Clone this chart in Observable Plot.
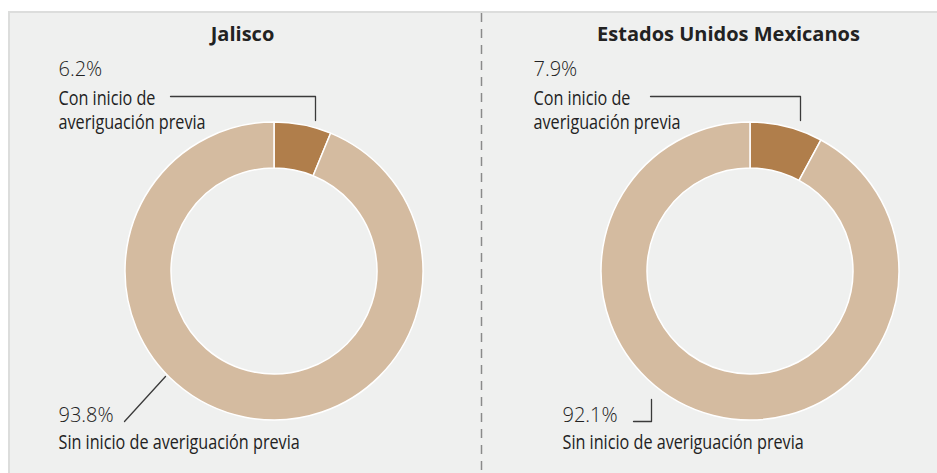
<!DOCTYPE html>
<html>
<head>
<meta charset="utf-8">
<script src="https://cdn.jsdelivr.net/npm/d3@7"></script>
<script src="https://cdn.jsdelivr.net/npm/@observablehq/plot@0.6"></script>
<style>
  html, body { margin: 0; padding: 0; background: #ffffff; }
  #wrap { position: relative; width: 937px; height: 473px; overflow: hidden; }
  #panel { position: absolute; left: 8px; top: 11px; width: 940px; height: 470px;
           background: #eff0ef; border-left: 2px solid #dcdddc; border-top: 2px solid #dcdddc; }
  #chart { position: absolute; left: 0; top: 0; }
</style>
</head>
<body>
<div id="wrap"><div id="panel"></div><div id="chart"></div></div>
<script>
// ---- data ----
const regions = ["Jalisco", "Estados Unidos Mexicanos"];
const categories = ["Con inicio de averiguación previa", "Sin inicio de averiguación previa"];
const topLabelLines = ["Con inicio de", "averiguación previa"];
const jalisco = [6.2, 93.8];
const nacional = [7.9, 92.1];
const series = [jalisco, nacional];

// ---- styles / layout ----
const colors = ["#b07e4b", "#d4bba0"];
const W = 937, H = 473;
const layout = [
  {cx: 274, cy: 271, titleX: 242,
   topPctX: 58, topLeader: [[170, 96], [315, 96], [315, 120]],
   botPctX: 58, botLeader: [[124, 421], [165, 376]]},
  {cx: 750, cy: 271, titleX: 728,
   topPctX: 533, topLeader: [[650, 96], [800, 96], [800, 120]],
   botPctX: 562, botLeader: [[633, 421], [651, 421], [651, 399]]}
];
const rOuter = 149, rInner = 103;
const condense = 0.81;

const color = Plot.scale({color: {type: "ordinal", domain: categories, range: colors}});
const fmt = v => d3.format(".1f")(v) + "%";

// donut mark: slices via d3.pie, placed through Plot's x/y scales
function donut(values, cx, cy) {
  return (index, scales) => {
    const arcs = d3.pie().sort(null).value(d => d.value)(values.map((v, i) => ({cat: categories[i], value: v})));
    const arc = d3.arc().innerRadius(rInner).outerRadius(rOuter);
    const g = d3.create("svg:g")
      .attr("transform", `translate(${scales.x(cx)},${scales.y(cy)})`);
    g.selectAll("path").data(arcs).join("path")
      .attr("d", arc)
      .attr("fill", d => color.apply(d.data.cat))
      .attr("stroke", "#ffffff")
      .attr("stroke-width", 1.5)
      .attr("stroke-linejoin", "round");
    return g.node();
  };
}

const font = "'Open Sans', 'Noto Sans', sans-serif";

const titles = regions.map((r, i) => ({x: layout[i].titleX, y: 33.6, text: r}));
const topPcts = series.map((s, i) => ({x: layout[i].topPctX, y: 69.5, text: fmt(s[0])}));
const botPcts = series.map((s, i) => ({x: layout[i].botPctX, y: 415, text: fmt(s[1])}));
const topLabels = series.flatMap((s, i) => topLabelLines.map((t, j) => ({x: layout[i].topPctX, y: 97.6 + 24 * j, text: t})));
const botLabels = series.map((s, i) => ({x: layout[i].botPctX, y: 441.6, text: categories[1]}));
const leaders = layout.flatMap((l, i) => [
  ...l.topLeader.map(([x, y]) => ({x, y, id: "t" + i})),
  ...l.botLeader.map(([x, y]) => ({x, y, id: "b" + i}))
]);

const plot = Plot.plot({
  width: W, height: H,
  margin: 0,
  x: {domain: [0, W], range: [0, W], axis: null},
  y: {domain: [0, H], range: [0, H], axis: null},
  style: {background: "transparent", overflow: "visible"},
  marks: [
    Plot.ruleX([481], {y1: 13, y2: H, stroke: "#8a8a8a", strokeWidth: 1.5, strokeDasharray: "9,7"}),
    donut(jalisco, layout[0].cx, layout[0].cy),
    donut(nacional, layout[1].cx, layout[1].cy),
    Plot.line(leaders, {x: "x", y: "y", z: "id", stroke: "#3a3a3a", strokeWidth: 1.3, curve: "linear"}),
    Plot.text(titles, {x: "x", y: "y", text: "text", fontSize: 20, fontWeight: 700,
      fontFamily: font, fill: "#222", textAnchor: "middle"}),
    Plot.text(topPcts.concat(botPcts), {x: "x", y: "y", text: "text", fontSize: 20, fontWeight: 300,
      fontFamily: font, fill: "#222", textAnchor: "start"}),
    Plot.text(topLabels.concat(botLabels), {x: "x", y: "y", text: "text", fontSize: 20,
      fontFamily: font, fill: "#222", textAnchor: "start"})
  ]
});

// condense the category labels horizontally (narrow typeface look)
const groups = plot.querySelectorAll("g[aria-label='text']");
const labelGroup = groups[groups.length - 1];
labelGroup.querySelectorAll("text").forEach(t => {
  const x = +(t.getAttribute("x") || 0);
  const tr = t.getAttribute("transform") || "";
  t.setAttribute("transform", `${tr} translate(${x},0) scale(${condense},1) translate(${-x},0)`);
});
document.getElementById("chart").appendChild(plot);
</script>
</body>
</html>
